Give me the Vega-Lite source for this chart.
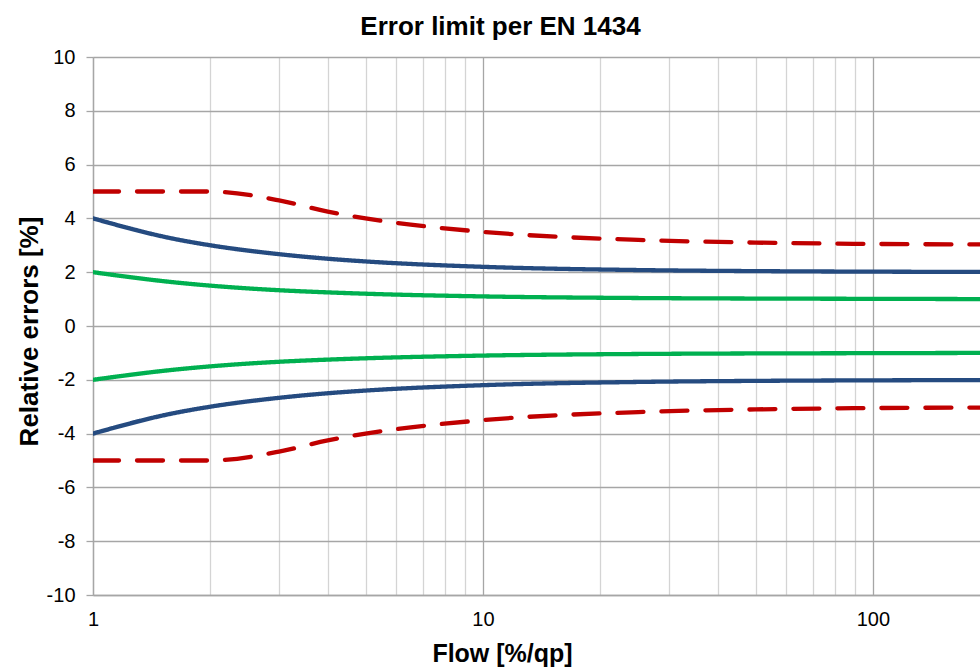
{
  "$schema": "https://vega.github.io/schema/vega-lite/v6.json",
  "width": 887,
  "height": 538,
  "autosize": {"type": "none"},
  "padding": {"left": 93, "top": 57, "right": 0, "bottom": 72},
  "background": "white",
  "config": {
    "font": "Liberation Sans",
    "view": {"stroke": null}
  },
  "title": {
    "text": "Error limit per EN 1434",
    "fontSize": 26,
    "fontWeight": "bold",
    "color": "#000000",
    "anchor": "middle",
    "frame": "group",
    "dx": -36,
    "offset": 7
  },
  "data": {
    "values": [
      {"q": 1, "e": 5, "s": "u3", "c": "c3"},
      {"q": 1.6, "e": 5, "s": "u3", "c": "c3"},
      {"q": 2, "e": 5, "s": "u3", "c": "c3"},
      {"q": 3, "e": 4.67, "s": "u3", "c": "c3"},
      {"q": 4, "e": 4.25, "s": "u3", "c": "c3"},
      {"q": 5, "e": 4.0, "s": "u3", "c": "c3"},
      {"q": 10, "e": 3.5, "s": "u3", "c": "c3"},
      {"q": 25, "e": 3.2, "s": "u3", "c": "c3"},
      {"q": 50, "e": 3.1, "s": "u3", "c": "c3"},
      {"q": 100, "e": 3.05, "s": "u3", "c": "c3"},
      {"q": 200, "e": 3.03, "s": "u3", "c": "c3"},
      {"q": 1, "e": -5, "s": "l3", "c": "c3"},
      {"q": 1.6, "e": -5, "s": "l3", "c": "c3"},
      {"q": 2, "e": -5, "s": "l3", "c": "c3"},
      {"q": 3, "e": -4.67, "s": "l3", "c": "c3"},
      {"q": 4, "e": -4.25, "s": "l3", "c": "c3"},
      {"q": 5, "e": -4.0, "s": "l3", "c": "c3"},
      {"q": 10, "e": -3.5, "s": "l3", "c": "c3"},
      {"q": 25, "e": -3.2, "s": "l3", "c": "c3"},
      {"q": 50, "e": -3.1, "s": "l3", "c": "c3"},
      {"q": 100, "e": -3.05, "s": "l3", "c": "c3"},
      {"q": 200, "e": -3.03, "s": "l3", "c": "c3"},
      {"q": 1, "e": 4, "s": "u2", "c": "c2"},
      {"q": 1.6, "e": 3.25, "s": "u2", "c": "c2"},
      {"q": 2, "e": 3.0, "s": "u2", "c": "c2"},
      {"q": 3, "e": 2.67, "s": "u2", "c": "c2"},
      {"q": 4, "e": 2.5, "s": "u2", "c": "c2"},
      {"q": 5, "e": 2.4, "s": "u2", "c": "c2"},
      {"q": 10, "e": 2.2, "s": "u2", "c": "c2"},
      {"q": 25, "e": 2.08, "s": "u2", "c": "c2"},
      {"q": 50, "e": 2.04, "s": "u2", "c": "c2"},
      {"q": 100, "e": 2.02, "s": "u2", "c": "c2"},
      {"q": 200, "e": 2.01, "s": "u2", "c": "c2"},
      {"q": 1, "e": -4, "s": "l2", "c": "c2"},
      {"q": 1.6, "e": -3.25, "s": "l2", "c": "c2"},
      {"q": 2, "e": -3.0, "s": "l2", "c": "c2"},
      {"q": 3, "e": -2.67, "s": "l2", "c": "c2"},
      {"q": 4, "e": -2.5, "s": "l2", "c": "c2"},
      {"q": 5, "e": -2.4, "s": "l2", "c": "c2"},
      {"q": 10, "e": -2.2, "s": "l2", "c": "c2"},
      {"q": 25, "e": -2.08, "s": "l2", "c": "c2"},
      {"q": 50, "e": -2.04, "s": "l2", "c": "c2"},
      {"q": 100, "e": -2.02, "s": "l2", "c": "c2"},
      {"q": 200, "e": -2.01, "s": "l2", "c": "c2"},
      {"q": 1, "e": 2, "s": "u1", "c": "c1"},
      {"q": 1.6, "e": 1.63, "s": "u1", "c": "c1"},
      {"q": 2, "e": 1.5, "s": "u1", "c": "c1"},
      {"q": 3, "e": 1.33, "s": "u1", "c": "c1"},
      {"q": 4, "e": 1.25, "s": "u1", "c": "c1"},
      {"q": 5, "e": 1.2, "s": "u1", "c": "c1"},
      {"q": 10, "e": 1.1, "s": "u1", "c": "c1"},
      {"q": 25, "e": 1.04, "s": "u1", "c": "c1"},
      {"q": 50, "e": 1.02, "s": "u1", "c": "c1"},
      {"q": 100, "e": 1.01, "s": "u1", "c": "c1"},
      {"q": 200, "e": 1.0, "s": "u1", "c": "c1"},
      {"q": 1, "e": -2, "s": "l1", "c": "c1"},
      {"q": 1.6, "e": -1.63, "s": "l1", "c": "c1"},
      {"q": 2, "e": -1.5, "s": "l1", "c": "c1"},
      {"q": 3, "e": -1.33, "s": "l1", "c": "c1"},
      {"q": 4, "e": -1.25, "s": "l1", "c": "c1"},
      {"q": 5, "e": -1.2, "s": "l1", "c": "c1"},
      {"q": 10, "e": -1.1, "s": "l1", "c": "c1"},
      {"q": 25, "e": -1.04, "s": "l1", "c": "c1"},
      {"q": 50, "e": -1.02, "s": "l1", "c": "c1"},
      {"q": 100, "e": -1.01, "s": "l1", "c": "c1"},
      {"q": 200, "e": -1.0, "s": "l1", "c": "c1"}
    ]
  },
  "mark": {"type": "line", "interpolate": "monotone", "strokeWidth": 4.3, "clip": true, "strokeCap": "round"},
  "encoding": {
    "x": {
      "field": "q",
      "type": "quantitative",
      "scale": {"type": "log", "domain": [1, 188.2], "nice": false},
      "axis": {
        "title": "Flow [%/qp]",
        "titleFontSize": 25,
        "titleFontWeight": "bold",
        "titleColor": "#000000",
        "titleX": 409,
        "titleY": 66,
        "titleAlign": "center",
        "titleBaseline": "alphabetic",
        "values": [1, 2, 3, 4, 5, 6, 7, 8, 9, 10, 20, 30, 40, 50, 60, 70, 80, 90, 100, 200],
        "format": "d",
        "labelExpr": "datum.value == 1 || datum.value == 10 || datum.value == 100 ? datum.label : ''",
        "labelFontSize": 20,
        "labelColor": "#000000",
        "labelPadding": 14,
        "labelFlush": false,
        "labelOverlap": false,
        "ticks": false,
        "domain": true,
        "domainColor": "#a6a6a6",
        "domainWidth": 1.3,
        "grid": true,
        "gridColor": {
          "condition": {"test": "datum.value == 1 || datum.value == 10 || datum.value == 100", "value": "#a6a6a6"},
          "value": "#d4d4d4"
        },
        "gridWidth": 1.3
      }
    },
    "y": {
      "field": "e",
      "type": "quantitative",
      "scale": {"domain": [-10, 10], "nice": false},
      "axis": {
        "title": "Relative errors [%]",
        "titleFontSize": 26,
        "titleFontWeight": "bold",
        "titleColor": "#000000",
        "titleX": -56,
        "titleY": 274,
        "titleAngle": -90,
        "titleAlign": "center",
        "titleBaseline": "alphabetic",
        "values": [-10, -8, -6, -4, -2, 0, 2, 4, 6, 8, 10],
        "labelExpr": "replace(datum.label, '\u2212', '-')",
        "labelFontSize": 20,
        "labelColor": "#000000",
        "labelPadding": 11,
        "ticks": true,
        "tickSize": 7,
        "tickColor": "#a6a6a6",
        "tickWidth": 1.3,
        "domain": true,
        "domainColor": "#a6a6a6",
        "domainWidth": 1.3,
        "grid": true,
        "gridColor": "#a6a6a6",
        "gridWidth": 1.3
      }
    },
    "detail": {"field": "s"},
    "color": {
      "field": "c",
      "type": "nominal",
      "scale": {"domain": ["c3", "c2", "c1"], "range": ["#c00000", "#254b80", "#00b050"]},
      "legend": null
    },
    "strokeDash": {
      "field": "c",
      "type": "nominal",
      "scale": {"domain": ["c3", "c2", "c1"], "range": [[26, 18], [1, 0], [1, 0]]},
      "legend": null
    }
  }
}
